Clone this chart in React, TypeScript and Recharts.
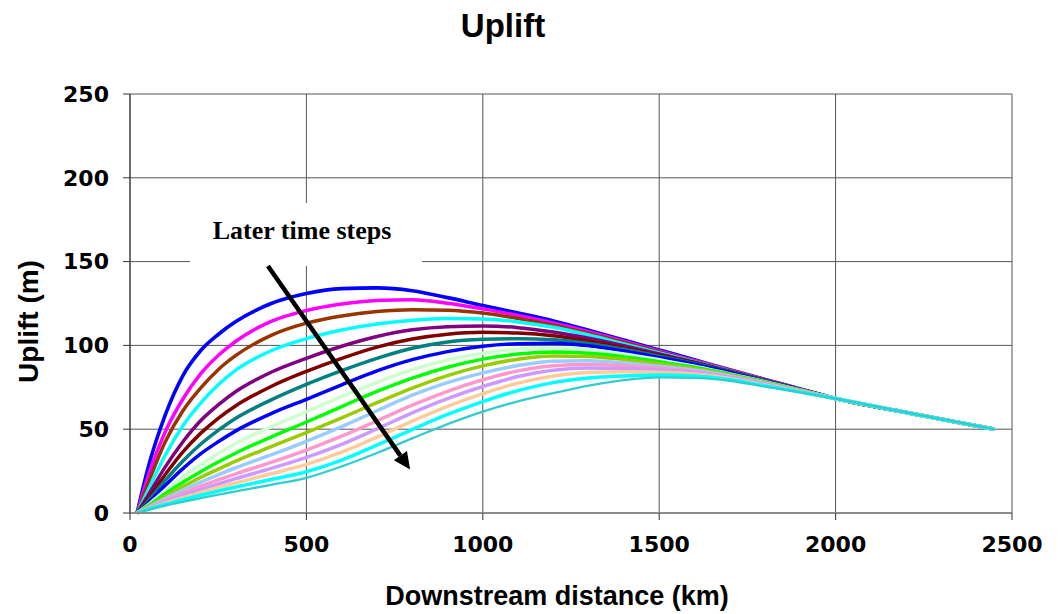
import React from 'react';
import {
  LineChart,
  Line,
  XAxis,
  YAxis,
  CartesianGrid,
  ReferenceArea,
  ReferenceLine,
} from 'recharts';

// Downstream distance (km) at which every curve is sampled
const distanceKm = [20, 50, 100, 150, 200, 250, 300, 400, 500, 600, 700, 800, 900, 1000, 1100, 1200, 1300, 1400, 1500, 1600, 1700, 1800, 1900, 2000, 2200, 2450];

// Uplift (m) for each time step, earliest first
const step01 = [0, 26, 58.5, 82, 96.8, 106.5, 114.2, 125, 131, 133.9, 134.3, 132.6, 128.5, 123.8, 119.3, 114.6, 109.0, 103.2, 97.3, 91.4, 85.5, 79.7, 74.0, 68.3, 60.0, 50];
const step02 = [0, 21, 48.5, 68, 83, 94, 102.5, 114.3, 120.8, 124.7, 126.8, 127.2, 125.2, 121.8, 117.8, 113.4, 108.2, 102.5, 96.7, 91.0, 85.3, 79.6, 73.9, 68.3, 60.0, 50];
const step03 = [0, 17, 42.5, 61, 74.5, 85.5, 94, 106, 113.3, 117.6, 120.2, 121.3, 121.0, 119.3, 116.1, 112.1, 107.2, 101.8, 96.1, 90.6, 85.0, 79.4, 73.9, 68.3, 60.0, 50];
const step04 = [0, 13, 34.5, 52, 65.5, 76.5, 85.3, 96.8, 104.0, 109.2, 112.8, 115.0, 116.0, 115.8, 114.0, 110.8, 106.2, 100.9, 95.5, 90.3, 84.8, 79.3, 73.8, 68.3, 60.0, 50];
const step05 = [0, 10, 27.5, 42.5, 55, 64.5, 72.5, 84, 92.3, 99.5, 105.3, 109.3, 111.2, 111.6, 110.6, 108.0, 104.3, 99.8, 94.9, 90.0, 84.6, 79.2, 73.8, 68.3, 60.0, 50];
const step06 = [0, 8, 23, 36.5, 47.5, 56.5, 64, 75.5, 84.5, 92.3, 99.0, 103.8, 106.7, 107.8, 107.4, 105.8, 102.6, 98.6, 94.1, 89.6, 84.4, 79.1, 73.7, 68.3, 60.0, 50];
const step07 = [0, 6.8, 19.5, 31, 41, 49.3, 56.5, 67.5, 76.8, 85.0, 92.3, 98.3, 102.0, 103.6, 104.0, 103.4, 101.2, 97.7, 93.5, 89.2, 84.2, 78.9, 73.6, 68.3, 60.0, 50];
const step08 = [0, 5.7, 16.5, 26.5, 35.3, 42.5, 49, 59.3, 67.8, 76.5, 84.8, 91.5, 96.3, 99.5, 101.0, 101.3, 99.8, 96.6, 92.8, 88.8, 83.9, 78.7, 73.5, 68.3, 60.0, 50];
const step09 = [0, 4.7, 13.5, 21.5, 28.8, 35.5, 41.5, 51.5, 60.5, 69.5, 78.0, 85.5, 91.3, 95.3, 97.8, 98.6, 97.5, 94.9, 91.4, 87.6, 83.0, 78.4, 73.4, 68.3, 60.0, 50];
const step10 = [0, 4.0, 11.5, 18.3, 24.6, 30.4, 35.8, 45.3, 54.3, 63.5, 72.5, 80.5, 87.0, 91.8, 94.8, 96.0, 95.3, 93.2, 90.2, 87.0, 82.7, 78.1, 73.3, 68.3, 60.0, 50];
const step11 = [0, 3.5, 9.9, 15.8, 21.2, 26.2, 31.0, 39.6, 48.0, 56.8, 65.8, 74.5, 82.0, 87.8, 91.8, 93.7, 93.4, 91.6, 89.0, 86.2, 82.2, 77.8, 73.2, 68.3, 60.0, 50];
const step12 = [0, 3.1, 8.6, 13.7, 18.4, 22.8, 27.0, 34.7, 42.8, 51.5, 61.0, 70.3, 77.8, 83.6, 88.0, 90.6, 90.8, 89.5, 87.6, 85.3, 81.8, 77.5, 73.0, 68.3, 60.0, 50];
const step13 = [0, 2.8, 7.6, 11.9, 16.0, 19.8, 23.4, 30.2, 37.5, 45.8, 55.0, 64.3, 72.6, 79.5, 84.8, 87.9, 88.6, 87.8, 86.4, 84.5, 81.3, 77.1, 72.8, 68.3, 60.0, 50];
const step14 = [0, 2.5, 6.7, 10.4, 14.0, 17.3, 20.5, 26.6, 33.2, 41.0, 50.2, 59.8, 68.3, 75.5, 81.4, 85.2, 86.5, 86.2, 85.2, 83.8, 80.9, 76.7, 72.6, 68.3, 60.0, 50];
const step15 = [0, 2.3, 5.9, 9.2, 12.3, 15.2, 18.0, 23.4, 29.0, 36.3, 45.3, 54.8, 63.6, 71.2, 77.5, 81.8, 83.9, 84.3, 84.0, 82.9, 80.3, 76.3, 72.4, 68.3, 60.0, 50];
const step16 = [0, 2.1, 5.2, 8.0, 10.6, 13.1, 15.5, 20.0, 24.6, 31.5, 40.5, 49.8, 58.8, 66.5, 73.0, 77.8, 80.6, 81.8, 82.3, 81.7, 79.6, 75.9, 72.2, 68.3, 60.0, 50];
const step17 = [0, 1.8, 4.4, 6.7, 8.9, 11.0, 12.9, 16.8, 21.0, 27.8, 35.8, 44.5, 53.0, 60.5, 66.6, 71.5, 76.0, 79.3, 80.9, 80.6, 78.9, 75.4, 72.0, 68.3, 60.0, 50];

const seriesValues = [step01, step02, step03, step04, step05, step06, step07, step08, step09, step10, step11, step12, step13, step14, step15, step16, step17];
const seriesColors = ['#0000FF', '#FF00FF', '#993300', '#00FFFF', '#800080', '#800000', '#008080', '#0000FF', '#CCFFCC', '#00FF00', '#99CC00', '#99CCFF', '#FF99CC', '#CC99FF', '#FFCC99', '#00FFFF', '#33CCCC'];
const seriesWidths = [3.6, 3.5, 3.5, 3.5, 3.5, 3.5, 3.5, 3.5, 3.5, 3.5, 3.5, 3.5, 3.5, 3.5, 3.5, 3.5, 2.3];

const xTicks = [0, 500, 1000, 1500, 2000, 2500];
const yTicks = [0, 50, 100, 150, 200, 250];

// Annotation: "Later time steps" box and arrow (data coordinates)
const noteBox = { x1: 170, x2: 828, y1: 147.4, y2: 185 };
const arrowFrom = { x: 391, y: 147.4 };
const arrowTo = { x: 794, y: 25.9 };

const chartData = distanceKm.map((d, i) => {
  const row: Record<string, number> = { distance: d };
  seriesValues.forEach((s, k) => {
    row[`s${k + 1}`] = s[i];
  });
  return row;
});

const FONT = '"Liberation Sans", Arial, Helvetica, sans-serif';
const TICK_FONT = '"DejaVu Sans", Verdana, sans-serif';

const ArrowShape = (props: any) => {
  const { x1, y1, x2, y2 } = props;
  const dx = x2 - x1;
  const dy = y2 - y1;
  const len = Math.sqrt(dx * dx + dy * dy);
  const ux = dx / len;
  const uy = dy / len;
  const headLen = 17;
  const headHalf = 8;
  const bx = x2 - ux * headLen;
  const by = y2 - uy * headLen;
  const px = -uy;
  const py = ux;
  return (
    <g>
      <line x1={x1} y1={y1} x2={bx} y2={by} stroke="#000" strokeWidth={4.5} />
      <polygon
        points={`${x2},${y2} ${bx + px * headHalf},${by + py * headHalf} ${bx - px * headHalf},${by - py * headHalf}`}
        fill="#000"
      />
    </g>
  );
};

const NoteLabel = (props: any) => {
  const vb = props.viewBox || {};
  return (
    <text
      x={vb.x + vb.width / 2 - 4}
      y={vb.y + 36}
      textAnchor="middle"
      fontFamily='"Liberation Serif", "Times New Roman", serif'
      fontWeight="bold"
      fontSize={26}
      fill="#000"
    >
      Later time steps
    </text>
  );
};

const XTitle = (props: any) => {
  const vb = props.viewBox || {};
  return (
    <text
      x={vb.x + vb.width / 2 - 14}
      y={vb.y + 92}
      textAnchor="middle"
      fontFamily={FONT}
      fontWeight="bold"
      fontSize={27}
      fill="#000"
    >
      Downstream distance (km)
    </text>
  );
};

const YTitle = (props: any) => {
  const vb = props.viewBox || {};
  const cx = 38;
  const cy = vb.y + vb.height / 2 + 18;
  return (
    <text
      x={cx}
      y={cy}
      transform={`rotate(-90 ${cx} ${cy})`}
      textAnchor="middle"
      fontFamily={FONT}
      fontWeight="bold"
      fontSize={28}
      fill="#000"
    >
      Uplift (m)
    </text>
  );
};

const tickStyle = { fontSize: 22, fontWeight: 'bold', fill: '#000', fontFamily: TICK_FONT } as any;

export default function App() {
  return (
    <div style={{ position: 'absolute', left: 0, top: 0, width: 1058, height: 614, background: '#fff' }}>
      <div
        style={{
          position: 'absolute',
          left: 0,
          top: 8,
          width: 1006,
          textAlign: 'center',
          fontFamily: FONT,
          fontWeight: 'bold',
          fontSize: 33,
          lineHeight: '36px',
          color: '#000',
        }}
      >
        Uplift
      </div>
      <LineChart
        width={1058}
        height={614}
        data={chartData}
        margin={{ top: 94, right: 46, bottom: 61, left: 0 }}
      >
        <CartesianGrid stroke="#555" strokeWidth={1} />
        <XAxis
          dataKey="distance"
          type="number"
          domain={[0, 2500]}
          ticks={xTicks}
          interval={0}
          height={40}
          tickSize={7}
          tickMargin={16}
          tick={tickStyle}
          axisLine={{ stroke: '#8c8c8c', strokeWidth: 2 }}
          tickLine={{ stroke: '#333' }}
          label={<XTitle />}
        />
        <YAxis
          type="number"
          domain={[0, 250]}
          ticks={yTicks}
          interval={0}
          width={130}
          tickSize={7}
          tickMargin={14}
          tick={tickStyle}
          axisLine={{ stroke: '#333' }}
          tickLine={{ stroke: '#333' }}
          label={<YTitle />}
        />
        <ReferenceArea
          x1={noteBox.x1}
          x2={noteBox.x2}
          y1={noteBox.y1}
          y2={noteBox.y2}
          fill="#fff"
          fillOpacity={1}
          stroke="none"
          label={<NoteLabel />}
        />
        {seriesValues.map((_, k) => (
          <Line
            key={k}
            type="monotone"
            dataKey={`s${k + 1}`}
            stroke={seriesColors[k]}
            strokeWidth={seriesWidths[k]}
            dot={false}
            activeDot={false}
            isAnimationActive={false}
          />
        ))}
        <ReferenceLine
          segment={[arrowFrom, arrowTo]}
          stroke="#000"
          shape={<ArrowShape />}
        />
      </LineChart>
    </div>
  );
}
